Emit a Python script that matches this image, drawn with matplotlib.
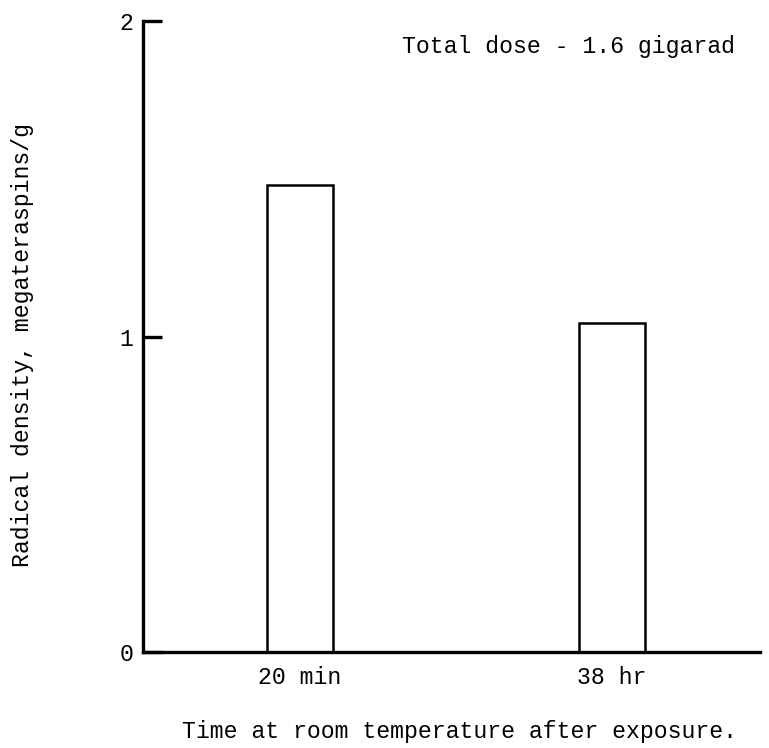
"""
Radical density after exposure, bar chart
"""
import matplotlib.pyplot as plt

# data
categories = ['20 min', '38 hr']
density = [1.48, 1.043]
y_ticks = [0, 1, 2]

plt.rcParams['font.family'] = ['Liberation Mono', 'DejaVu Sans Mono']
fs = 16.7

fig = plt.figure(figsize=(7.69, 7.48), dpi=100)
ax = fig.add_axes([0.186, 0.128, 0.802, 0.844])

x = [1, 2]
ax.bar(x, density, width=0.21, color='white', edgecolor='black', linewidth=1.8)

ax.set_xlim(0.497, 2.474)
ax.set_ylim(0, 2)
ax.set_xticks(x)
ax.set_xticklabels(categories, fontsize=fs)
ax.set_yticks(y_ticks)
ax.set_yticklabels([str(t) for t in y_ticks], fontsize=fs)

ax.spines['top'].set_visible(False)
ax.spines['right'].set_visible(False)
ax.spines['left'].set_linewidth(2.4)
ax.spines['bottom'].set_linewidth(2.4)
ax.tick_params(axis='y', direction='in', length=14, width=2.4, pad=7)
ax.tick_params(axis='x', length=0, pad=10)

fig.text(0.523, 0.9385, 'Total dose - 1.6 gigarad', fontsize=fs,
         ha='left', va='center')
fig.text(0.597, 0.022, 'Time at room temperature after exposure.',
         fontsize=fs, ha='center', va='center')
fig.text(0.029, 0.539, 'Radical density, megateraspins/g', fontsize=fs,
         ha='center', va='center', rotation=90)

fig.savefig('out.png', dpi=100)
